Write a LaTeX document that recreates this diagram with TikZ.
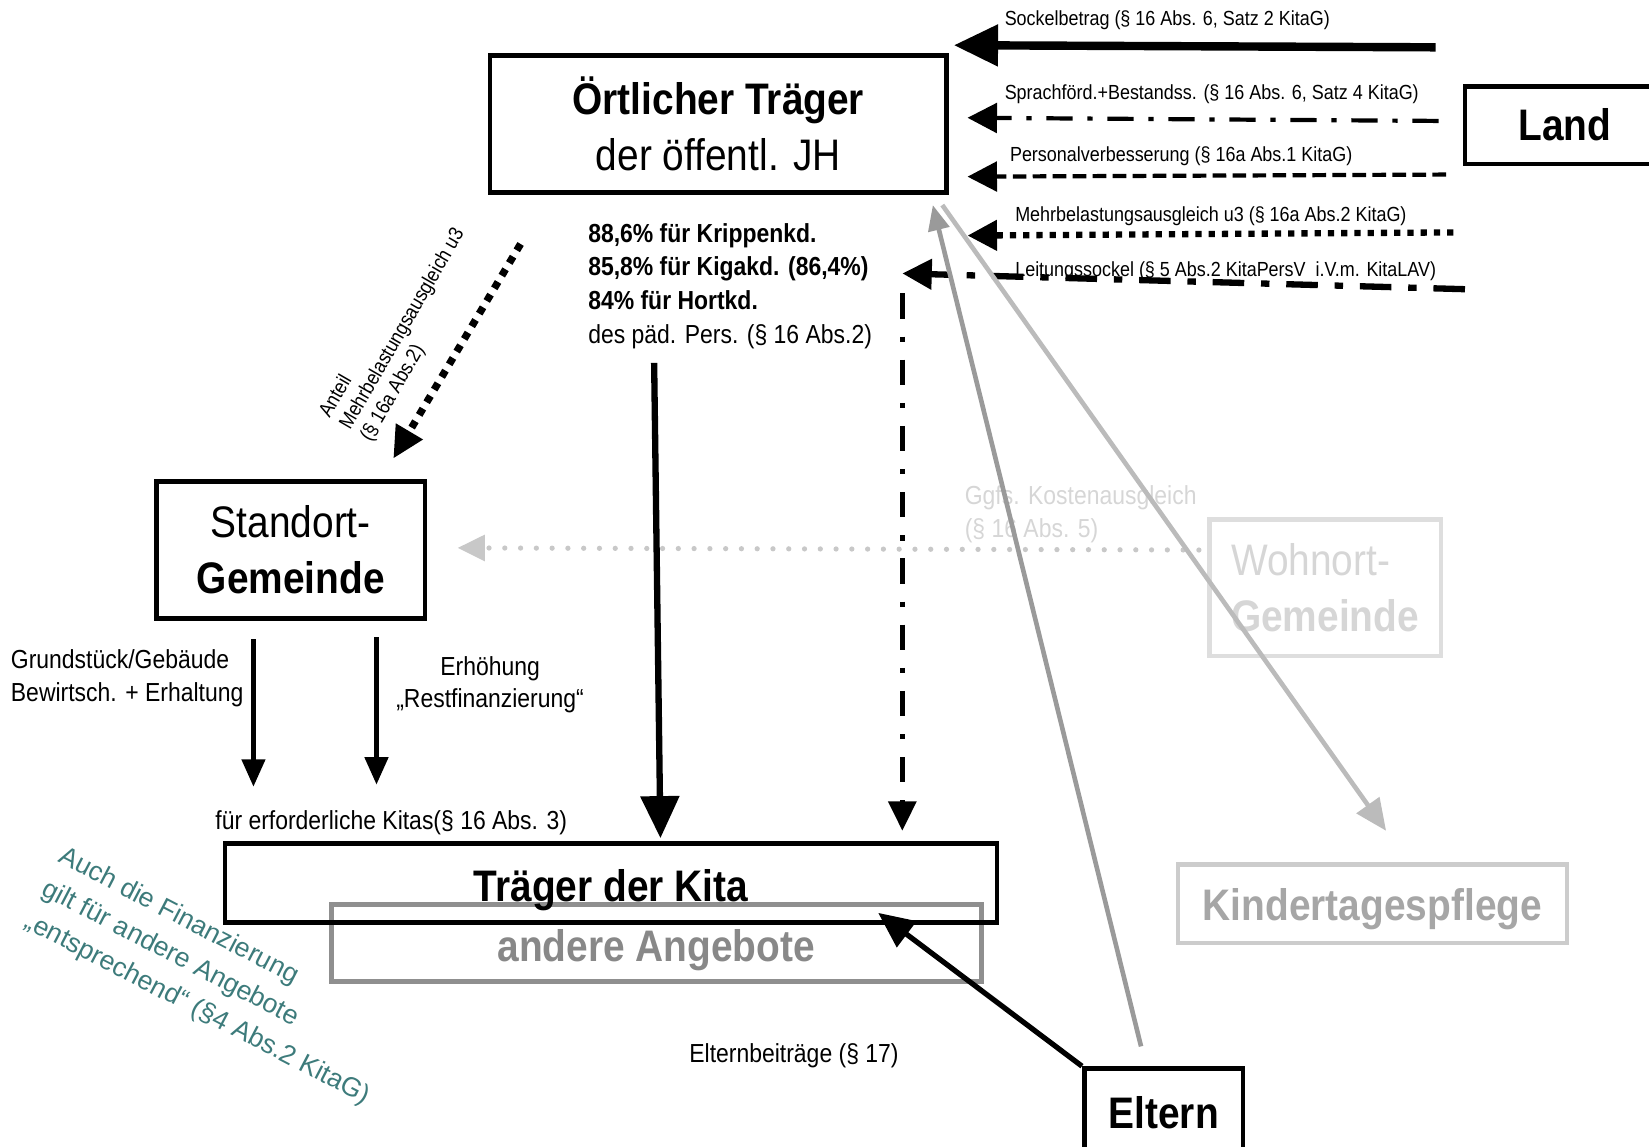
\documentclass[tikz,border=0pt]{standalone}
\usepackage{fontspec}
\setmainfont{Liberation Sans}[FakeStretch=0.88]
\newfontfamily\plainarial{Liberation Sans}
\usetikzlibrary{arrows.meta}
\definecolor{tealtxt}{HTML}{3D7B7B}
\definecolor{greyA}{HTML}{8F8F8F}
\definecolor{greyAt}{HTML}{888888}
\definecolor{greyK}{HTML}{CCCCCC}
\definecolor{greyKt}{HTML}{A6A6A6}
\definecolor{greyW}{HTML}{DEDEDE}
\definecolor{greyWt}{HTML}{D6D6D6}
\definecolor{greyDot}{HTML}{C8C8C8}
\definecolor{greyDark}{HTML}{9A9A9A}
\definecolor{greyLight}{HTML}{BBBBBB}
\begin{document}
\begin{tikzpicture}[x=0.5pt,y=-0.5pt,
  box/.style={draw, line width=2.2pt, inner sep=0pt, align=center},
  bigf/.style={font=\fontsize{21}{26.5}\selectfont},
  medf/.style={font=\fontsize{12.4}{15.5}\selectfont},
  smallf/.style={font=\fontsize{9.7}{11}\selectfont},
  arr/.style args={#1/#2}{-{Triangle[length=#1,width=#2]}},
  lbl/.style={inner sep=0pt, anchor=base west, smallf},
  lowtext/.style={text height=#1, text depth=4.4pt},
]
\useasboundingbox (0,0) rectangle (1568,1090);

% ---------- boxes ----------
\node[box, bigf, minimum width=217pt, minimum height=65pt] (oert) at (683,118)
  {\textbf{Örtlicher Träger}\\der öffentl. JH};
\node[box, bigf, minimum width=95pt, minimum height=37pt] (land) at (1488,119) {\textbf{Land}};
\node[box, bigf, minimum width=127.5pt, minimum height=65pt] (standort) at (276.5,523)
  {Standort-\\\textbf{Gemeinde}};
\node[box, bigf, draw=greyW, text=greyWt, line width=2pt, align=left,
  minimum width=110pt, minimum height=65pt] (wohnort) at (1260,559)
  {Wohnort-\\\textbf{Gemeinde}};
\node[box, bigf, draw=greyA, text=greyAt, lowtext=22.3pt, minimum width=309pt, minimum height=36.5pt] (andere) at (624,896.5)
  {\textbf{andere Angebote}};
\node[box, bigf, lowtext=22.3pt, minimum width=367pt, minimum height=37.5pt] (traeger) at (581,839.5)
  {\textbf{Träger der Kita}};
\node[box, bigf, draw=greyK, text=greyKt, line width=2pt, lowtext=20.3pt, minimum width=185pt, minimum height=37.5pt] (kinder) at (1305,859.5)
  {\textbf{Kindertagespflege}};
\node[box, bigf, minimum width=75.5pt, minimum height=42pt] (eltern) at (1106.5,1058)
  {\textbf{Eltern}};

% ---------- texts ----------
\node[font=\fontsize{12.4}{16}\selectfont, align=left, inner sep=0pt, anchor=west] (anteile) at (559,272)
  {\textbf{88,6\% für Krippenkd.}\\\textbf{85,8\% für Kigakd. (86,4\%)}\\\textbf{84\% für Hortkd.}\\des päd. Pers. (§ 16 Abs.2)};
\node[lbl] (l1) at (955,24) {Sockelbetrag (§ 16 Abs. 6, Satz 2 KitaG)};
\node[lbl] (l2) at (955,95) {Sprachförd.+Bestandss. (§ 16 Abs. 6, Satz 4 KitaG)};
\node[lbl] (l3) at (960,154) {Personalverbesserung (§ 16a Abs.1 KitaG)};
\node[lbl] (l4) at (965,211) {Mehrbelastungsausgleich u3 (§ 16a Abs.2 KitaG)};
\node[lbl] (l5) at (965,263) {Leitungssockel (§ 5 Abs.2 KitaPersV\ \ i.V.m. KitaLAV)};
\node[font=\fontsize{9.7}{11.3}\selectfont, align=left, inner sep=0pt, rotate=60] (lanteil) at (383,313)
  {Anteil\\Mehrbelastungsausgleich u3\\(§ 16a Abs.2)};
\node[medf, align=left, inner sep=0pt, anchor=west] (lgrund) at (10,645)
  {Grundstück/Gebäude\\Bewirtsch. + Erhaltung};
\node[medf, align=center, inner sep=0pt] (lerh) at (466,651)
  {Erhöhung\\„Restfinanzierung“};
\node[medf, inner sep=0pt] (lerf) at (372,782) {für erforderliche Kitas(§ 16 Abs. 3)};
\node[medf, inner sep=0pt] (leltern) at (755,1004) {Elternbeiträge (§ 17)};
\node[medf, align=left, inner sep=0pt, anchor=west, text=greyWt] (lggfs) at (917,489)
  {Ggfs. Kostenausgleich\\(§ 16 Abs. 5)};
\node[font=\plainarial\fontsize{12.7}{17.5}\selectfont, text=tealtxt, align=left, inner sep=0pt, rotate=-27.5] (lauch) at (204,929)
  {Auch die Finanzierung\\gilt für andere Angebote\\„entsprechend“ (§4 Abs.2 KitaG)};

% ---------- coordinates ----------
\coordinate (s1a) at (1365,45);  \coordinate (s1b) at (907,43);
\coordinate (s2a) at (1368,115); \coordinate (s2b) at (920,112);
\coordinate (s3a) at (1375,166); \coordinate (s3b) at (920,168);
\coordinate (s4a) at (1382,221); \coordinate (s4b) at (920,224);
\coordinate (s5a) at (1393,275); \coordinate (s5b) at (858,260);
\coordinate (va) at (858,279);   \coordinate (vb) at (858,790);
\coordinate (ma) at (622,345);   \coordinate (mb) at (628,797);
\coordinate (da) at (495,232);   \coordinate (db) at (374,436);
\coordinate (g1a) at (241,608);  \coordinate (g1b) at (241,748);
\coordinate (g2a) at (358,606);  \coordinate (g2b) at (358,746);
\coordinate (ka) at (1140,523);  \coordinate (kb) at (435,521);
\coordinate (ea) at (1085,995);  \coordinate (eb) at (887,195);
\coordinate (ta) at (896,195);   \coordinate (tb) at (1318,790);
\coordinate (ec) at (835,868);

% ---------- connectors ----------
\draw[line width=4pt, arr=21pt/19pt] (s1a) -- (s1b);
\draw[line width=2pt, dash pattern=on 12.5pt off 7pt on 2.5pt off 7pt, arr=14pt/14pt] (s2a) -- (s2b);
\draw[line width=2pt, dash pattern=on 6.5pt off 3pt, arr=14pt/14pt] (s3a) -- (s3b);
\draw[line width=3pt, dash pattern=on 3pt off 3.3pt, arr=14pt/14pt] (s4a) -- (s4b);
\draw[line width=3pt, dash pattern=on 15pt off 8pt on 4pt off 8pt, arr=14pt/14pt] (s5a) -- (s5b);
\draw[line width=2.5pt, dash pattern=on 12pt off 8.5pt on 2.5pt off 8.5pt, arr=14pt/13pt] (va) -- (vb);
\draw[line width=3pt, arr=20pt/18pt] (ma) -- (mb);
\draw[line width=3.5pt, dash pattern=on 3.5pt off 3.5pt, arr=15pt/14pt] (da) -- (db);
\draw[line width=2pt, arr=13pt/11pt] (g1a) -- (g1b);
\draw[line width=2pt, arr=13pt/11pt] (g2a) -- (g2b);
\draw[greyDot, line width=2.5pt, line cap=round, dash pattern=on 0pt off 7.5pt, arr=13pt/12pt] (ka) -- (kb);
\draw[line width=2.5pt, arr=17pt/15pt] (eltern.north west) -- (ec);
\draw[greyDark, line width=2.2pt, arr=12pt/10pt] (ea) -- (eb);
\draw[greyLight, line width=2.2pt, arr=15pt/13pt] (ta) -- (tb);
\end{tikzpicture}
\end{document}
